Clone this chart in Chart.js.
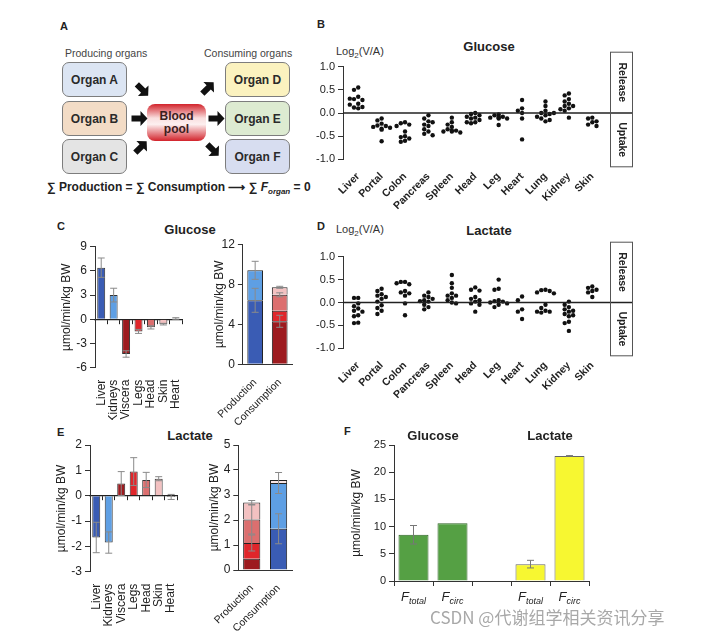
<!DOCTYPE html>
<html>
<head>
<meta charset="utf-8">
<script src="https://cdn.jsdelivr.net/npm/chart.js@4.4.1/dist/chart.umd.min.js"></script>
<style>
body { margin: 0; background: #fff; font-family: "Liberation Sans", Arial, sans-serif; color: #222; }
#page { position: relative; width: 715px; height: 636px; overflow: hidden; }
canvas { position: absolute; }
.t { position: absolute; white-space: nowrap; }
.pl { font-weight: bold; font-size: 11px; line-height: 13px; }
.ttl { font-weight: bold; font-size: 13px; line-height: 15px; transform: translateX(-50%); }
.lg { font-size: 11px; line-height: 13px; color: #333; }
.lg sub { font-size: 8px; }
.organ { position: absolute; width: 63px; height: 33px; border: 1.5px solid #7d7d7d; border-radius: 7px;
  display: flex; align-items: center; justify-content: center; font-weight: bold; font-size: 12px; color: #2a2a2a; }
.pool { position: absolute; left: 147px; top: 104px; width: 59px; height: 37px; border-radius: 8px;
  background: linear-gradient(#d2232b, #f9dede 38%, #fdf0f0 55%, #d2232b);
  display: flex; align-items: center; justify-content: center; text-align: center;
  font-weight: bold; font-size: 12px; line-height: 13px; color: #3a2020; }
</style>
</head>
<body>
<div id="page">
  <!-- panel A -->
  <div class="t pl" style="left:60px;top:20px">A</div>
  <div class="t" style="left:65px;top:47px;font-size:10.5px;line-height:12px;color:#444">Producing organs</div>
  <div class="t" style="left:204px;top:47px;font-size:10.5px;line-height:12px;color:#444">Consuming organs</div>
  <div class="organ" style="left:62px;top:62px;background:#dce5f3">Organ A</div>
  <div class="organ" style="left:62px;top:101px;background:#f3dcc6">Organ B</div>
  <div class="organ" style="left:62px;top:139px;background:#e4e4e4">Organ C</div>
  <div class="organ" style="left:225px;top:62px;background:#fbf2bf">Organ D</div>
  <div class="organ" style="left:225px;top:101px;background:#ddebd1">Organ E</div>
  <div class="organ" style="left:225px;top:139px;background:#d7ddf0">Organ F</div>
  <div class="pool">Blood<br>pool</div>
  <svg class="t" style="left:0;top:0" width="320" height="200">
    <g fill="#111">
      <polygon points="-8,-3 1,-3 1,-7.5 8,0 1,7.5 1,3 -8,3" transform="translate(142.5,90) rotate(45)"/>
      <polygon points="-8,-3 1,-3 1,-7.5 8,0 1,7.5 1,3 -8,3" transform="translate(139.5,118.5)"/>
      <polygon points="-8,-3 1,-3 1,-7.5 8,0 1,7.5 1,3 -8,3" transform="translate(141,147) rotate(-45)"/>
      <polygon points="-8,-3 1,-3 1,-7.5 8,0 1,7.5 1,3 -8,3" transform="translate(208,88) rotate(-45)"/>
      <polygon points="-8,-3 1,-3 1,-7.5 8,0 1,7.5 1,3 -8,3" transform="translate(216.5,118.5)"/>
      <polygon points="-8,-3 1,-3 1,-7.5 8,0 1,7.5 1,3 -8,3" transform="translate(213,150) rotate(45)"/>
    </g>
  </svg>
  <div class="t" style="left:47px;top:180px;font-weight:bold;font-size:12px;line-height:14px">&sum; Production = &sum; Consumption &#x27F6; &sum; <i>F</i><sub style="font-size:8px"><i>organ</i></sub> = 0</div>

  <!-- panel letters and titles -->
  <div class="t pl" style="left:317px;top:18px">B</div>
  <div class="t pl" style="left:57px;top:220px">C</div>
  <div class="t pl" style="left:317px;top:220px">D</div>
  <div class="t pl" style="left:57px;top:426px">E</div>
  <div class="t pl" style="left:344px;top:425px">F</div>
  <div class="t ttl" style="left:489px;top:39px">Glucose</div>
  <div class="t ttl" style="left:489px;top:223px">Lactate</div>
  <div class="t ttl" style="left:190px;top:222px">Glucose</div>
  <div class="t ttl" style="left:190px;top:428px">Lactate</div>
  <div class="t lg" style="left:336px;top:45px">Log<sub>2</sub>(V/A)</div>
  <div class="t lg" style="left:336px;top:223px">Log<sub>2</sub>(V/A)</div>

  <canvas id="cB"></canvas>
  <canvas id="cD"></canvas>
  <canvas id="cC1"></canvas>
  <canvas id="cC2"></canvas>
  <canvas id="cE1"></canvas>
  <canvas id="cE2"></canvas>
  <canvas id="cF"></canvas>

  <div class="t" style="left:430px;top:607px;font-size:17px;line-height:20px;color:#a8a8a8;font-family:'Noto Sans CJK SC','Liberation Sans',sans-serif">CSDN @代谢组学相关资讯分享</div>
</div>

<script>
// Log2(V/A) per organ (B: glucose, D: lactate)
const vaOrgans = ["Liver", "Portal", "Colon", "Pancreas", "Spleen", "Head", "Leg", "Heart", "Lung", "Kidney", "Skin"];
const glucoseVA = [
  [0.55, 0.5, 0.35, 0.3, 0.28, 0.31, 0.2, 0.12, 0.1, 0.13, 0.18],
  [-0.12, -0.16, -0.23, -0.27, -0.28, -0.3, -0.32, -0.34, -0.36, -0.61],
  [-0.2, -0.22, -0.25, -0.28, -0.4, -0.5, -0.52, -0.55, -0.6, -0.62],
  [-0.05, -0.12, -0.18, -0.2, -0.25, -0.28, -0.35, -0.4, -0.45, -0.48],
  [-0.1, -0.2, -0.25, -0.3, -0.35, -0.38, -0.4, -0.4, -0.42, -0.38],
  [0.0, -0.02, -0.05, -0.08, -0.1, -0.12, -0.15, -0.2, -0.22, -0.2],
  [-0.03, -0.05, -0.08, -0.1, -0.12, -0.12, -0.1, -0.08, -0.26],
  [0.28, 0.1, 0.05, 0.0, -0.12, -0.57],
  [0.25, 0.15, 0.05, 0.0, -0.02, -0.05, -0.08, -0.12, -0.18, -0.15, 0.0],
  [0.42, 0.38, 0.3, 0.25, 0.2, 0.15, 0.1, 0.15, 0.05, -0.1, 0.08],
  [-0.1, -0.12, -0.18, -0.2, -0.25, -0.28]
];
const lactateVA = [
  [0.1, 0.1, -0.02, -0.08, -0.13, -0.18, -0.2, -0.28, -0.3, -0.44, -0.45],
  [0.3, 0.25, 0.18, 0.15, 0.12, 0.08, 0.02, -0.06, -0.12, -0.18, -0.25],
  [0.45, 0.45, 0.4, 0.42, 0.25, 0.22, 0.2, 0.15, -0.02, -0.28],
  [0.22, 0.15, 0.12, 0.08, 0.05, 0.03, 0.02, -0.05, -0.1, -0.15],
  [0.6, 0.42, 0.32, 0.2, 0.15, 0.15, 0.1, 0.05, 0.0, -0.02],
  [0.33, 0.28, 0.26, 0.12, 0.08, 0.05, 0.02, -0.02, -0.05, -0.2],
  [0.5, 0.3, 0.28, 0.05, 0.03, 0.02, 0.0, -0.02, -0.05, -0.1],
  [0.13, 0.05, -0.15, -0.2, -0.36],
  [0.28, 0.27, 0.25, 0.22, 0.2, -0.05, -0.12, -0.18, -0.2, -0.22, -0.2],
  [0.02, -0.05, -0.1, -0.15, -0.18, -0.2, -0.25, -0.28, -0.3, -0.42, -0.45, -0.62],
  [0.35, 0.32, 0.28, 0.25, 0.22, 0.12]
];

// organ fluxes, umol/min/kg BW (C, E left)
const fluxOrgans = ["Liver", "Kidneys", "Viscera", "Legs", "Head", "Skin", "Heart"];
const glucoseFlux = [6.4, 3.0, -4.3, -1.5, -1.0, -0.6, 0.1];
const glucoseFluxErr = [1.2, 0.85, 0.4, 0.25, 0.2, 0.1, 0.1];
const lactateFlux = [-1.65, -1.85, 0.48, 0.95, 0.62, 0.67, -0.05];
const lactateFluxErr = [0.6, 0.42, 0.47, 0.55, 0.3, 0.08, 0.1];

// production / consumption stacks (C, E right)
const balanceCats = ["Production", "Consumption"];
const glucoseProdOrgans = ["Liver", "Kidneys"];
const glucoseProd = [6.4, 3.0];
const glucoseProdErr = [1.2, 0.9];
const glucoseConsOrgans = ["Viscera", "Legs", "Head", "Skin"];
const glucoseCons = [4.3, 1.05, 1.6, 0.75];
const glucoseConsErr = [0.6, 0, 0.2, 0.1];
const lactateProdOrgans = ["Viscera", "Legs", "Head", "Skin"];
const lactateProd = [0.45, 0.63, 0.94, 0.68];
const lactateProdErr = [0, 0.32, 0.58, 0.08];
const lactateConsOrgans = ["Liver", "Kidneys", "Heart"];
const lactateCons = [1.65, 1.83, 0.12];
const lactateConsErr = [0.6, 0.42, 0];

// F: whole-body fluxes
const fCats = ["Ftotal", "Fcirc", "", "Ftotal", "Fcirc"];
const fGroups = ["Glucose", "Lactate"];
const fValues = [8.5, 10.6, null, 3.1, 23.0];
const fErr = [1.7, 0, 0, 0.7, 0.05];

const organColor = {
  Liver: "#3a5cb4", Kidneys: "#5e9fe4", Viscera: "#9d1b1f", Legs: "#e0262b",
  Head: "#dc6f6f", Skin: "#f3c1c1", Heart: "#f8e6e6"
};

Chart.defaults.font.family = '"Liberation Sans", Arial, sans-serif';
Chart.defaults.color = "#222";
Chart.defaults.animation = false;
Chart.defaults.responsive = false;
Chart.defaults.plugins.legend.display = false;
Chart.defaults.plugins.tooltip.enabled = false;

// place a canvas and pin its chart area to page coordinates
function setup(id, box, area) {
  const c = document.getElementById(id);
  c.width = box.w;
  c.height = box.h;
  c.style.left = box.left + "px";
  c.style.top = box.top + "px";
  return {
    canvas: c,
    layout: { padding: { top: area.top - box.top, right: box.left + box.w - area.right, left: 0, bottom: 0 } },
    yFit: s => { s.width = area.left - box.left; },
    xFit: s => { s.height = box.top + box.h - area.bottom; }
  };
}

// simple beeswarm so dots in one column don't sit on top of each other
function swarm(vals, idx) {
  const placed = [];
  const cands = [0, -0.18, 0.18, -0.36, 0.36, -0.5, 0.5];
  return vals.map(v => {
    let off = cands.find(c => placed.every(p => Math.abs(p.x - c) > 0.15 || Math.abs(p.y - v) > 0.09));
    if (off === undefined) off = 0;
    placed.push({ x: off, y: v });
    return { x: idx + off, y: v };
  });
}

const vaFrame = {
  id: "vaFrame",
  afterDraw(chart) {
    const { ctx, chartArea: a, scales: { y } } = chart;
    const y0 = y.getPixelForValue(0);
    const bx = a.right + 6, bw = 22, by = a.top - 15, bh = a.bottom - a.top + 22;
    ctx.save();
    ctx.strokeStyle = "#222";
    ctx.lineWidth = 1.5;
    ctx.beginPath();
    ctx.moveTo(a.left, y0);
    ctx.lineTo(bx + bw, y0);
    ctx.stroke();
    ctx.strokeStyle = "#555";
    ctx.lineWidth = 1;
    ctx.strokeRect(bx + 0.5, by + 0.5, bw, bh);
    ctx.fillStyle = "#222";
    ctx.font = 'bold 10.5px "Liberation Sans", Arial, sans-serif';
    ctx.textAlign = "center";
    ctx.textBaseline = "middle";
    [["Release", (by + y0) / 2], ["Uptake", (y0 + by + bh) / 2]].forEach(([txt, cy]) => {
      ctx.save();
      ctx.translate(bx + bw / 2 + 0.5, cy);
      ctx.rotate(Math.PI / 2);
      ctx.fillText(txt, 0, 0);
      ctx.restore();
    });
    ctx.restore();
  }
};

const errorBars = {
  id: "errorBars",
  afterDatasetsDraw(chart) {
    const ctx = chart.ctx;
    const ys = chart.scales.y;
    chart.data.datasets.forEach((ds, di) => {
      if (!ds.errors) return;
      chart.getDatasetMeta(di).data.forEach((bar, i) => {
        const e = ds.errors[i];
        if (!e || ds.data[i] == null) return;
        const d = Math.abs(ys.getPixelForValue(e) - ys.getPixelForValue(0));
        ctx.save();
        ctx.strokeStyle = ds.errorColor || "#8a8a8a";
        ctx.lineWidth = 1;
        ctx.beginPath();
        ctx.moveTo(bar.x, bar.y - d);
        ctx.lineTo(bar.x, bar.y + d);
        [bar.y - d, bar.y + d].forEach(yy => {
          ctx.moveTo(bar.x - 3.5, yy);
          ctx.lineTo(bar.x + 3.5, yy);
        });
        ctx.stroke();
        ctx.restore();
      });
    });
  }
};

function yAxis(f, min, max, step, size, title) {
  return {
    min: min, max: max,
    ticks: { stepSize: step, font: { size: size }, padding: 3 },
    grid: { drawOnChartArea: false, tickLength: 5, color: "#333" },
    border: { color: "#333" },
    title: { display: !!title, text: title, font: { size: 12 }, padding: { top: 4, bottom: 0 } },
    afterFit: f.yFit
  };
}

function vaChart(id, box, area, values) {
  const f = setup(id, box, area);
  const pts = [];
  values.forEach((vals, i) => pts.push(...swarm(vals, i)));
  new Chart(f.canvas, {
    type: "scatter",
    data: { datasets: [{ data: pts, pointRadius: 2.2, pointBackgroundColor: "#111", pointBorderWidth: 0 }] },
    options: {
      layout: f.layout,
      scales: {
        x: {
          type: "linear", min: -0.65, max: 10.5,
          afterBuildTicks: s => { s.ticks = vaOrgans.map((_, i) => ({ value: i })); },
          grid: { display: false }, border: { display: false },
          ticks: { callback: v => vaOrgans[v], minRotation: 45, maxRotation: 45, autoSkip: false, padding: 3,
                   font: { size: 10.5, weight: "bold" } },
          afterFit: f.xFit
        },
        y: Object.assign(yAxis(f, -1, 1, 0.5, 11), {
          ticks: { stepSize: 0.5, callback: v => v.toFixed(1), font: { size: 11 }, padding: 3 }
        })
      }
    },
    plugins: [vaFrame]
  });
}

function fluxChart(id, box, area, values, errs, min, max, step) {
  const f = setup(id, box, area);
  new Chart(f.canvas, {
    type: "bar",
    data: {
      labels: fluxOrgans,
      datasets: [{
        data: values, errors: errs,
        backgroundColor: fluxOrgans.map(o => organColor[o]),
        borderColor: "#333", borderWidth: 1,
        barPercentage: 0.64, categoryPercentage: 1
      }]
    },
    options: {
      layout: f.layout,
      scales: {
        x: {
          grid: { display: false }, border: { display: false },
          ticks: { minRotation: 90, maxRotation: 90, autoSkip: false, padding: 4, font: { size: 12 } },
          afterFit: f.xFit
        },
        xz: {
          type: "category", position: { y: 0 }, offset: true,
          grid: { display: true, offset: true, drawOnChartArea: false, tickLength: 4, color: "#222" },
          border: { color: "#222", width: 1.2 },
          ticks: { display: false }
        },
        y: yAxis(f, min, max, step, 12, "µmol/min/kg BW")
      }
    },
    plugins: [errorBars]
  });
}

function balanceChart(id, box, area, prodOrgans, prod, prodErr, consOrgans, cons, consErr, max, step) {
  const f = setup(id, box, area);
  const datasets = [];
  prod.forEach((v, i) => datasets.push({
    data: [v, null], errors: [prodErr[i], 0], backgroundColor: organColor[prodOrgans[i]]
  }));
  cons.forEach((v, i) => datasets.push({
    data: [null, v], errors: [0, consErr[i]], backgroundColor: organColor[consOrgans[i]]
  }));
  datasets.forEach(d => Object.assign(d, { borderColor: "#222", borderWidth: 1, barPercentage: 0.64, categoryPercentage: 1 }));
  new Chart(f.canvas, {
    type: "bar",
    data: { labels: balanceCats, datasets: datasets },
    options: {
      layout: f.layout,
      scales: {
        x: {
          stacked: true,
          grid: { display: false }, border: { color: "#333" },
          ticks: { minRotation: 45, maxRotation: 45, autoSkip: false, padding: 4, font: { size: 10.5 } },
          afterFit: f.xFit
        },
        y: Object.assign(yAxis(f, 0, max, step, 12, "µmol/min/kg BW"), { stacked: true })
      }
    },
    plugins: [errorBars]
  });
}

const fLabels = {
  id: "fLabels",
  afterDraw(chart) {
    const { ctx, chartArea: a, scales: { x } } = chart;
    ctx.save();
    ctx.fillStyle = "#222";
    ctx.textBaseline = "alphabetic";
    fCats.forEach((lab, i) => {
      if (!lab) return;
      const main = lab[0], sub = lab.slice(1);
      ctx.font = 'italic 13px "Liberation Sans", Arial, sans-serif';
      const w1 = ctx.measureText(main).width;
      ctx.font = 'italic 9px "Liberation Sans", Arial, sans-serif';
      const w2 = ctx.measureText(sub).width;
      const x0 = x.getPixelForValue(i) - (w1 + w2) / 2;
      const yb = a.bottom + 20;
      ctx.font = 'italic 13px "Liberation Sans", Arial, sans-serif';
      ctx.fillText(main, x0, yb);
      ctx.font = 'italic 9px "Liberation Sans", Arial, sans-serif';
      ctx.fillText(sub, x0 + w1, yb + 3);
    });
    ctx.font = 'bold 13px "Liberation Sans", Arial, sans-serif';
    ctx.textAlign = "center";
    ctx.textBaseline = "middle";
    fGroups.forEach((g, gi) => {
      const cx = (x.getPixelForValue(gi * 3) + x.getPixelForValue(gi * 3 + 1)) / 2;
      ctx.fillText(g, cx, a.top - 9);
    });
    ctx.restore();
  }
};

function fChart(id, box, area) {
  const f = setup(id, box, area);
  new Chart(f.canvas, {
    type: "bar",
    data: {
      labels: fCats,
      datasets: [{
        data: fValues, errors: fErr, errorColor: "#777",
        backgroundColor: ["#55a044", "#55a044", "#fff", "#f7f731", "#f7f731"],
        borderColor: ["#2e6424", "#2e6424", "#fff", "#666", "#666"],
        borderWidth: 1, barPercentage: 0.77, categoryPercentage: 1
      }]
    },
    options: {
      layout: f.layout,
      scales: {
        x: {
          grid: { display: true, offset: true, drawOnChartArea: false, tickLength: 5, color: "#333" },
          border: { color: "#333" },
          ticks: { display: false },
          afterFit: f.xFit
        },
        y: yAxis(f, 0, 25, 5, 11, "µmol/min/kg BW")
      }
    },
    plugins: [errorBars, fLabels]
  });
}

vaChart("cB", { left: 315, top: 35, w: 330, h: 180 }, { left: 343, top: 66.7, right: 604, bottom: 159.3 }, glucoseVA);
vaChart("cD", { left: 315, top: 220, w: 330, h: 185 }, { left: 343, top: 256.7, right: 604, bottom: 348.3 }, lactateVA);
fluxChart("cC1", { left: 55, top: 225, w: 140, h: 195 }, { left: 95, top: 246.7, right: 184, bottom: 367.7 },
  glucoseFlux, glucoseFluxErr, -6, 9, 3);
balanceChart("cC2", { left: 207, top: 225, w: 100, h: 202 }, { left: 241.7, top: 244.3, right: 292, bottom: 364.3 },
  glucoseProdOrgans, glucoseProd, glucoseProdErr, glucoseConsOrgans, glucoseCons, glucoseConsErr, 12, 4);
fluxChart("cE1", { left: 50, top: 430, w: 140, h: 200 }, { left: 90, top: 445, right: 184, bottom: 571.7 },
  lactateFlux, lactateFluxErr, -3, 2, 1);
balanceChart("cE2", { left: 203, top: 430, w: 100, h: 206 }, { left: 238.3, top: 445, right: 292, bottom: 570 },
  lactateProdOrgans, lactateProd, lactateProdErr, lactateConsOrgans, lactateCons, lactateConsErr, 5, 1);
fChart("cF", { left: 345, top: 425, w: 260, h: 190 }, { left: 394, top: 445, right: 589, bottom: 581 });
</script>
</body>
</html>
